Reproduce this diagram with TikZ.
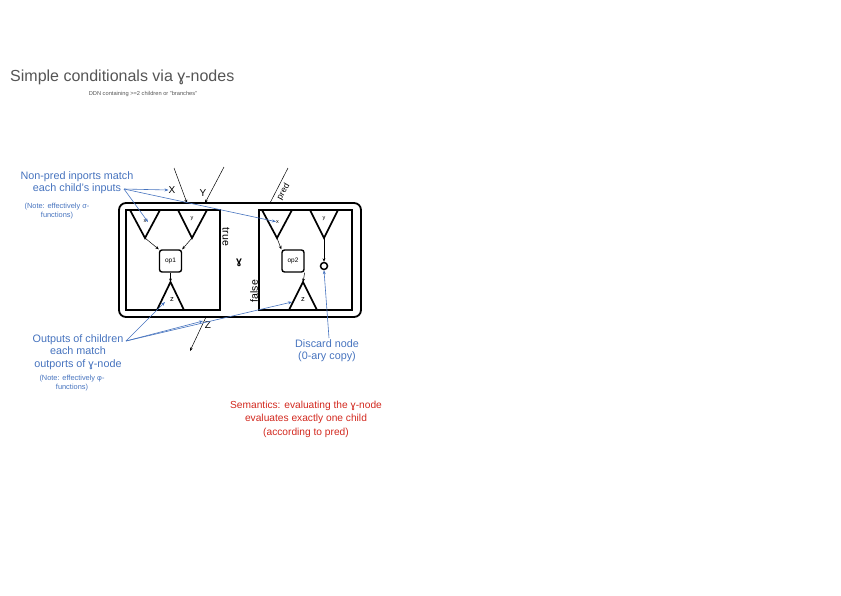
\documentclass[tikz,border=0pt]{standalone}
\usepackage{fontspec}
\setmainfont{Liberation Sans}
\usetikzlibrary{arrows.meta}
\definecolor{ann}{RGB}{70,115,190}
\definecolor{sem}{RGB}{210,40,30}
\definecolor{ttl}{RGB}{85,85,85}
\begin{document}
\begin{tikzpicture}[x=1pt,y=-1pt,
  frame/.style={draw,line width=1.8pt,inner sep=0pt},
  tri/.style={draw,line width=1.7pt,line join=miter},
  opbox/.style={draw,line width=1.4pt,rounded corners=2.5pt,minimum width=22pt,minimum height=22pt,inner sep=0pt,font=\fontsize{6.5}{7}\selectfont},
  flow/.style={-{Stealth[length=3.5pt,width=2.8pt]},line width=0.5pt},
  annarrow/.style={ann,line width=0.6pt,-{Stealth[length=4pt,width=3pt]}},
  lbl/.style={font=\fontsize{10}{11}\selectfont,inner sep=0pt},
  tiny/.style={font=\fontsize{5.5}{6}\selectfont,inner sep=0pt},
  zl/.style={font=\fontsize{7.5}{8}\selectfont,inner sep=0pt},
  side/.style={font=\fontsize{10.5}{11}\selectfont,inner sep=0pt},
  anntext/.style={ann,align=center,font=\fontsize{10.8}{12.4}\selectfont,inner sep=0pt},
  notetext/.style={ann,align=center,font=\fontsize{7.4}{8.6}\selectfont,inner sep=0pt},
  semtext/.style={sem,align=center,font=\fontsize{10.2}{13.5}\selectfont,inner sep=0pt}
]
\useasboundingbox (0,0) rectangle (841,595);

% title
\node[anchor=west,text=ttl,font=\fontsize{16}{18}\selectfont,inner sep=0pt] (title) at (10,77) {Simple conditionals via ɣ-nodes};
\node[text=ttl,font=\fontsize{5.7}{7}\selectfont,inner sep=0pt] (sub) at (143,94) {DDN containing >=2 children or "branches"};

% frames
\node[frame,rounded corners=7pt,minimum width=242pt,minimum height=114pt] (outer) at (240,260) {};
\node[frame,minimum width=94pt,minimum height=100pt] (left) at (173,260) {};
\node[frame,minimum width=93pt,minimum height=100pt] (right) at (305.5,260) {};

% left child
\draw[tri] (130,210) -- (160,210) -- (145,238) coordinate (lxa) -- cycle;
\draw[tri] (178,210) -- (207,210) -- (192,238) coordinate (lya) -- cycle;
\draw[tri] (157,310) -- (184,310) -- (170.5,282) coordinate (lza) -- cycle;
\node[tiny] (lxl) at (145,221) {x};
\node[tiny] (lyl) at (192,219) {y};
\node[zl] (lzl) at (172,300) {z};
\node[opbox] (op1) at (170.5,261) {op1};
\draw[flow] (lxa) -- (op1.north west);
\draw[flow] (lya) -- (op1.north east);
\draw[flow] (op1.south) -- (lza);

% right child
\draw[tri] (262,210) -- (292,210) -- (277,238) coordinate (rxa) -- cycle;
\draw[tri] (310,210) -- (338,210) -- (324,238) coordinate (rya) -- cycle;
\draw[tri] (289,310) -- (317,310) -- (303,282) coordinate (rza) -- cycle;
\node[tiny] (rxl) at (277.5,222) {x};
\node[tiny] (ryl) at (324,219) {y};
\node[zl] (rzl) at (303,300) {z};
\node[opbox] (op2) at (293,261) {op2};
\node[draw,circle,line width=1.5pt,minimum size=7pt,inner sep=0pt] (disc) at (324,266) {};
\draw[flow] (rxa) -- (op2.north west);
\draw[flow] (op2.south east) -- (rza);
\draw[flow] (rya) -- (disc.north);

% labels on frame
\node[side,rotate=-90] (truel) at (226,237) {true};
\node[side,rotate=90] (falsel) at (254,291) {false};
\node[font=\bfseries\fontsize{10.5}{11}\selectfont,inner sep=0pt] (gam) at (239,263) {ɣ};

% external ports
\coordinate (xsrc) at (174,168);
\coordinate (xdst) at (187,203);
\coordinate (ysrc) at (224,167);
\coordinate (ydst) at (205,203);
\coordinate (psrc) at (288,168);
\coordinate (pdst) at (270,203);
\coordinate (zsrc) at (206,317);
\coordinate (zdst) at (190,351);
\draw[flow] (xsrc) -- (xdst);
\draw[flow] (ysrc) -- (ydst);
\draw[line width=0.5pt] (psrc) -- (pdst);
\draw[flow] (zsrc) -- (zdst);
\node[lbl] (Xl) at (172,190) {X};
\node[lbl] (Yl) at (203,193) {Y};
\node[font=\fontsize{8.5}{9}\selectfont,rotate=60,inner sep=0pt] (predl) at (283.5,192) {pred};
\node[lbl] (Zl) at (208,325) {Z};

% annotations
\node[anntext] (np) at (77,183) {Non-pred inports match\\each child's inputs};
\node[notetext] (npn) at (57,211) {(Note: effectively σ-\\functions)};
\coordinate (npA) at (124,189);
\draw[annarrow] (npA) -- (Xl.west);
\draw[annarrow] (npA) -- (148,222);
\draw[annarrow] (npA) -- (rxl);

\node[anntext] (oc) at (78,352) {Outputs of children\\each match\\outports of ɣ-node};
\node[notetext] (ocn) at (72,383) {(Note: effectively φ-\\functions)};
\coordinate (ocA) at (126,341);
\draw[annarrow] (ocA) -- (165,302);
\draw[annarrow] (ocA) -- (203,321);
\draw[annarrow] (ocA) -- (292,302);

\node[anntext] (dn) at (327,351) {Discard node\\(0-ary copy)};
\coordinate (dnA) at (329,338);
\draw[annarrow] (dnA) -- (disc.south);

\node[semtext] (sem) at (306,419) {Semantics: evaluating the ɣ-node\\evaluates exactly one child\\(according to pred)};
\end{tikzpicture}
\end{document}
